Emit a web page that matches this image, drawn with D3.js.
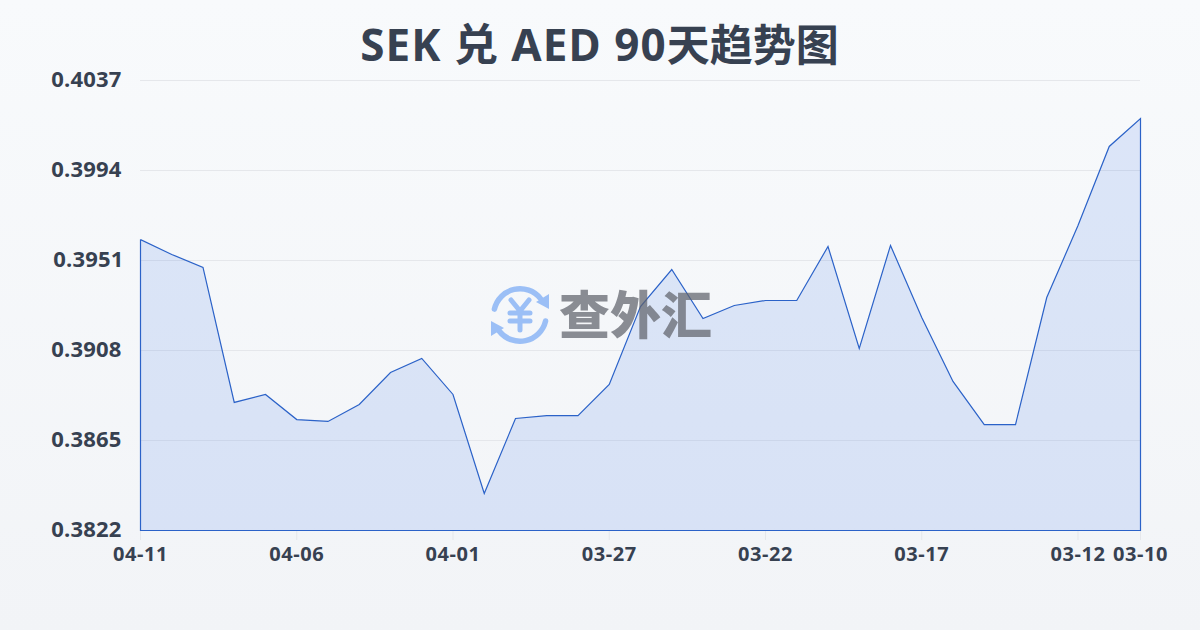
<!DOCTYPE html>
<html><head><meta charset="utf-8">
<script src="https://cdn.jsdelivr.net/npm/d3@7/dist/d3.min.js"></script>
<style>html,body{margin:0;padding:0;background:#f8fafc}svg{display:block}text{font-family:"Open Sans","Noto Sans CJK SC",sans-serif}</style>
</head><body><div id="c"></div>
<script>
const titleText = "SEK 兑 AED 90天趋势图";
const brandText = "查外汇";
const dates = ["04-11","04-10","04-09","04-08","04-07","04-06","04-05","04-04","04-03","04-02","04-01","03-31","03-30","03-29","03-28","03-27","03-26","03-25","03-24","03-23","03-22","03-21","03-20","03-19","03-18","03-17","03-16","03-15","03-14","03-13","03-12","03-11","03-10"];
const rates = [0.39610,0.39539,0.39477,0.38832,0.38870,0.38750,0.38741,0.38822,0.38975,0.39042,0.38870,0.38397,0.38755,0.38769,0.38769,0.38918,0.39290,0.39467,0.39233,0.39295,0.39319,0.39319,0.39577,0.39090,0.39582,0.39238,0.38932,0.38726,0.38726,0.39333,0.39677,0.40055,0.40188];
const yTicks = [0.3822,0.3865,0.3908,0.3951,0.3994,0.4037];
const xTicks = ["04-11","04-06","04-01","03-27","03-22","03-17","03-12","03-10"];

const W=1200,H=630;
const svg=d3.select("#c").append("svg").attr("width",W).attr("height",H);
const defs=svg.append("defs");
const bg=defs.append("linearGradient").attr("id","bg").attr("x1",0).attr("y1",0).attr("x2",0).attr("y2",1);
bg.append("stop").attr("offset",0).attr("stop-color","#f8fafc");
bg.append("stop").attr("offset",1).attr("stop-color","#f2f4f7");
svg.append("rect").attr("width",W).attr("height",H).attr("fill","url(#bg)");

const x=d3.scalePoint().domain(dates).range([140.5,1140.5]);
const y=d3.scaleLinear().domain([0.3822,0.4037]).range([530.5,80.5]);
const ink="#374151";

const title=svg.append("text").attr("x",599.5).attr("y",61).attr("text-anchor","middle")
  .attr("font-size",44).attr("font-weight",700).attr("fill",ink);
const cut=titleText.indexOf("天");
title.append("tspan").attr("letter-spacing",1).text(titleText.slice(0,cut));
title.append("tspan").attr("font-size",43).text(titleText.slice(cut));

svg.append("g").selectAll("line").data(yTicks).join("line")
  .attr("x1",140).attr("x2",1140).attr("y1",d=>y(d)).attr("y2",d=>y(d))
  .attr("stroke","#e5e7eb").attr("stroke-width",1);

const area=d3.area().x((d,i)=>x(dates[i])).y0(530.5).y1(d=>y(d));
svg.append("path").datum(rates).attr("d",area).attr("fill","#2563eb").attr("fill-opacity",0.13);
svg.append("path").attr("d",`M${x(dates[0])} ${y(rates[0])}`+d3.line().x((d,i)=>x(dates[i])).y(d=>y(d))(rates).replace(/^M/,"L")+`V530.5H${x(dates[0])}Z`)
  .attr("fill","none").attr("stroke","#2b62c8").attr("stroke-width",1.2);

const logo=svg.append("g");
const ic=logo.append("g").attr("transform","translate(520,315)");
const ring=d3.arc().innerRadius(23.5).outerRadius(29).cornerRadius(2.7);
const blue="#9bbff6";
ic.append("path").attr("d",ring({startAngle:-1.45,endAngle:1.0})).attr("fill",blue);
ic.append("path").attr("d",ring({startAngle:1.7,endAngle:4.15})).attr("fill",blue);
ic.append("path").attr("d","M29 -6 L16 -13 L29 -21Z").attr("fill",blue);
ic.append("path").attr("d","M-29 6 L-16 13 L-29 21Z").attr("fill",blue);
ic.append("path").attr("d","M-9 -15 L0 -4 L9 -15 M-10 -2 H10 M-10 6 H10 M0 -4 V15")
  .attr("fill","none").attr("stroke",blue).attr("stroke-width",5).attr("stroke-linecap","round").attr("stroke-linejoin","round");
logo.append("text").attr("x",559).attr("y",334).attr("font-size",51).attr("font-weight",900)
  .attr("fill","#5f636b").attr("fill-opacity",0.72)
  .style("font-family",'"Noto Sans CJK SC"').text(brandText);

svg.append("g").selectAll("line").data(xTicks).join("line")
  .attr("x1",d=>x(d)).attr("x2",d=>x(d)).attr("y1",531).attr("y2",540)
  .attr("stroke","#e5e7eb");

svg.append("g").selectAll("text").data(yTicks).join("text")
  .attr("x",d=>d===0.3951?123.5:121.5).attr("y",d=>y(d)+6.5).attr("text-anchor","end")
  .attr("font-size",22).attr("font-weight",700).attr("letter-spacing",0.2).attr("fill",ink).text(d=>d.toFixed(4));
svg.append("g").selectAll("text").data(xTicks).join("text")
  .attr("x",d=>x(d)).attr("y",561).attr("text-anchor","middle")
  .attr("font-size",20).attr("font-weight",700).attr("letter-spacing",0.6).attr("fill",ink).text(d=>d);
</script></body></html>
